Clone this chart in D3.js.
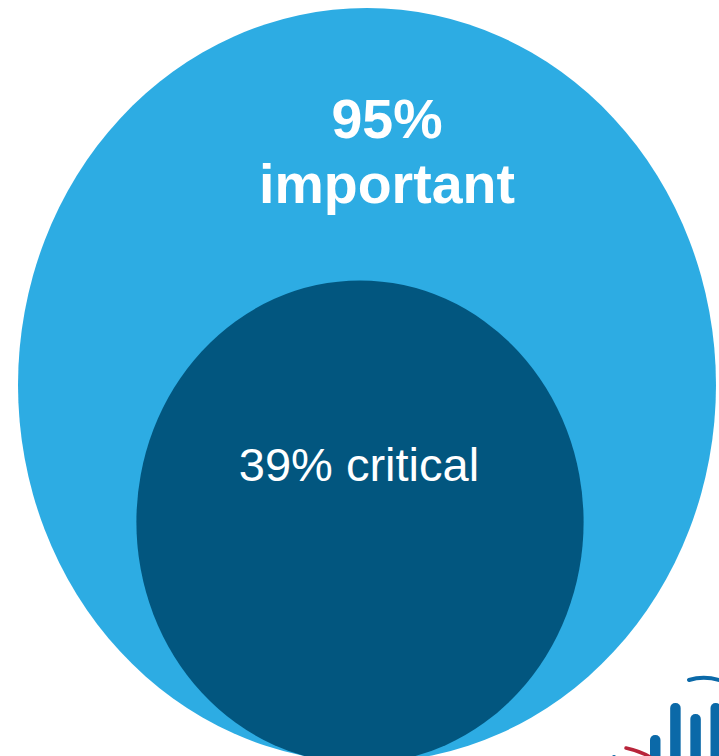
<!DOCTYPE html>
<html>
<head>
<meta charset="utf-8">
<script src="https://cdn.jsdelivr.net/npm/d3@7"></script>
<style>
  html, body { margin: 0; padding: 0; background: #fff; }
  svg { display: block; }
</style>
</head>
<body>
<svg id="chart" width="719" height="756"></svg>
<script>
// Share of respondents per rating
var labels = ["important", "critical"];
var values = [95, 39];
var colors = ["#2dace3", "#02567f"];

// Logo fragment bottom right (bar heights, relative)
var logoBars = [21, 53, 42, 53];

var svg = d3.select("#chart");

// Ellipse radii scale with sqrt of value (area proportional)
var rx = d3.scaleSqrt().domain([0, 95]).range([0, 349]);
var ry = d3.scaleSqrt().domain([0, 95]).range([0, 377]);

var centers = [[367, 385], [360, 522]];

svg.selectAll("ellipse.bubble")
    .data(values)
    .enter().append("ellipse")
    .attr("class", "bubble")
    .attr("cx", (d, i) => centers[i][0])
    .attr("cy", (d, i) => centers[i][1])
    .attr("rx", d => rx(d))
    .attr("ry", d => ry(d))
    .attr("fill", (d, i) => colors[i]);

// Outer label, two lines, bold
var outer = svg.append("text")
    .attr("text-anchor", "middle")
    .style("font-family", "'Liberation Sans', Arial, sans-serif")
    .style("font-weight", "bold")
    .style("font-size", "55.5px")
    .attr("fill", "#fff");
outer.append("tspan").attr("x", 387).attr("y", 138).text(values[0] + "%");
outer.append("tspan").attr("x", 387).attr("y", 203).text(labels[0]);

// Inner label
svg.append("text")
    .attr("x", 359)
    .attr("y", 481)
    .attr("text-anchor", "middle")
    .style("font-family", "'Liberation Sans', Arial, sans-serif")
    .style("font-size", "47px")
    .attr("fill", "#fff")
    .text(values[1] + "% " + labels[1]);

// Logo fragment
var logo = svg.append("g");
var bx = d3.scaleBand().domain(d3.range(logoBars.length)).range([650, 721]).paddingInner(0.48).paddingOuter(0);
var by = d3.scaleLinear().domain([0, 53]).range([756, 703]);

logo.selectAll("rect")
    .data(logoBars)
    .enter().append("rect")
    .attr("x", (d, i) => bx(i))
    .attr("y", d => by(d))
    .attr("width", bx.bandwidth())
    .attr("height", d => 756 - by(d) + 6)
    .attr("rx", 5)
    .attr("fill", "#0b69a8");

logo.append("path")
    .attr("d", "M689,680 Q705,675 722,681")
    .attr("fill", "none")
    .attr("stroke", "#0b69a8")
    .attr("stroke-width", 4)
    .attr("stroke-linecap", "round");

logo.append("path")
    .attr("d", "M626,748 Q640,751 650,757")
    .attr("fill", "none")
    .attr("stroke", "#b8243a")
    .attr("stroke-width", 3.5)
    .attr("stroke-linecap", "round");

logo.append("circle")
    .attr("cx", 614)
    .attr("cy", 757)
    .attr("r", 2)
    .attr("fill", "#0b69a8");
</script>
</body>
</html>
